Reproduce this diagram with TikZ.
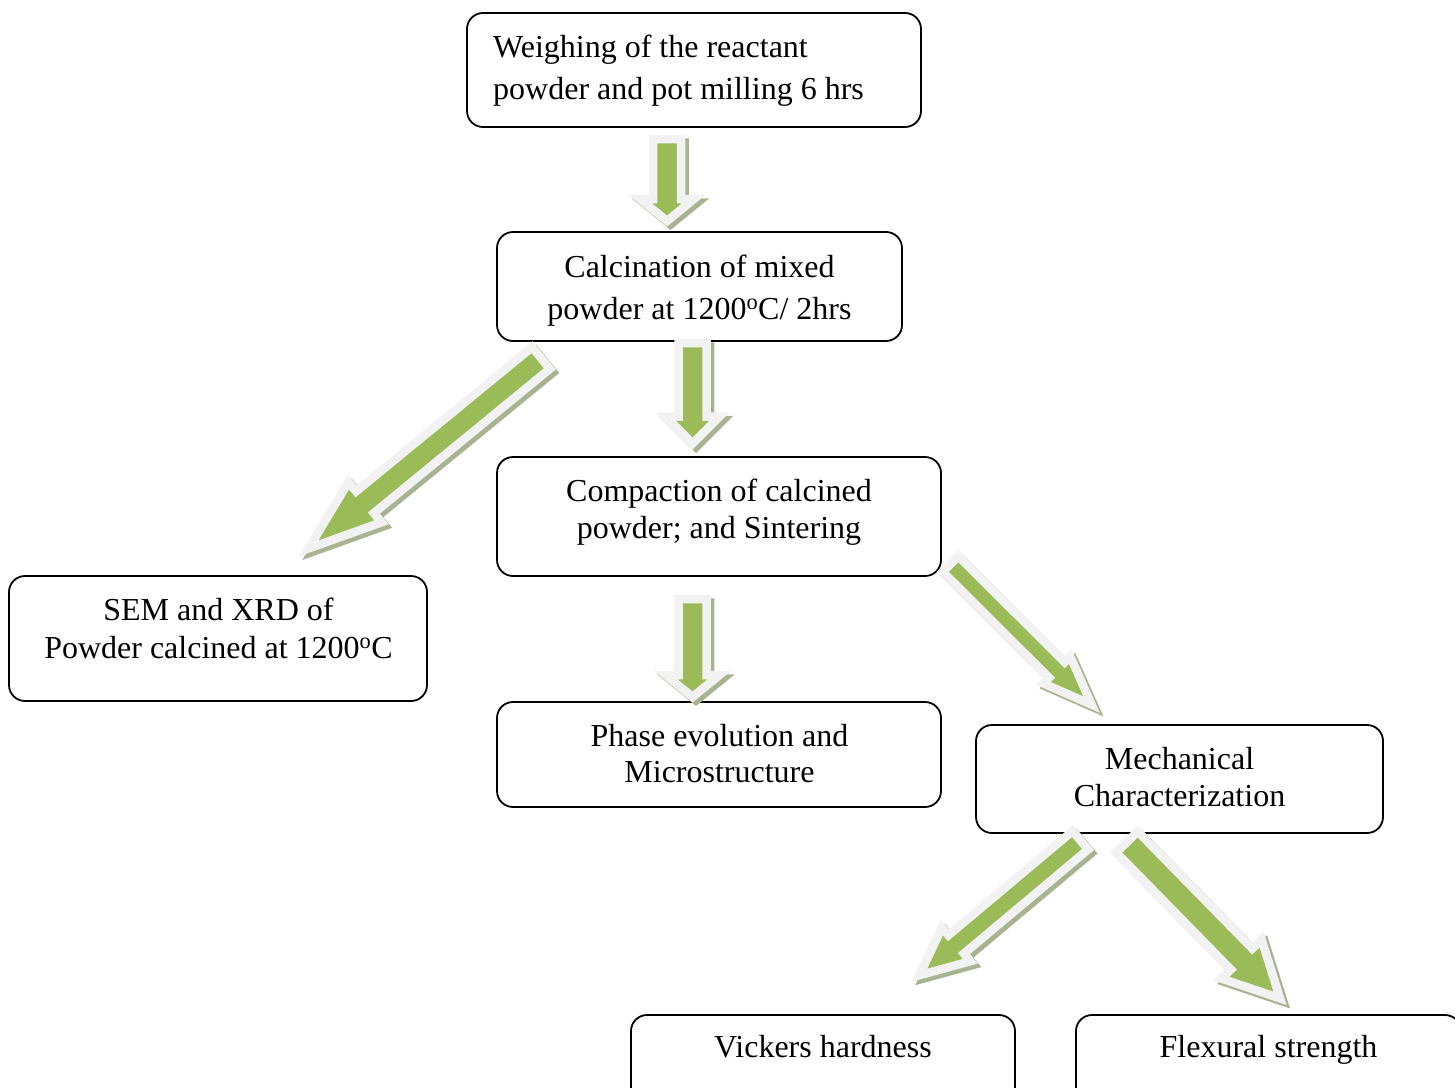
\documentclass[tikz,border=0pt]{standalone}
\usepackage{fontspec}
\setmainfont{Liberation Serif}
\definecolor{agreen}{RGB}{155,187,89}
\definecolor{aline}{RGB}{242,242,242}
\definecolor{ashade}{RGB}{168,180,145}
\newcommand\blockarrow[5]{%
  \pgfpointanchor{#1}{center}\pgfgetlastxy{\BAsx}{\BAsy}%
  \pgfpointanchor{#2}{center}\pgfgetlastxy{\BAtx}{\BAty}%
  \pgfmathsetmacro\BAang{atan2(\BAty-\BAsy,\BAtx-\BAsx)}%
  \pgfmathsetmacro\BAlen{veclen(\BAtx-\BAsx,\BAty-\BAsy)}%
  \begin{scope}[shift={(\BAsx+3.5pt,\BAsy-3.5pt)}, rotate=\BAang]
    \path[arrowshadow] (0,#3) -- ({\BAlen-#5},#3) -- ({\BAlen-#5},#4) -- (\BAlen,0)
      -- ({\BAlen-#5},-#4) -- ({\BAlen-#5},-#3) -- (0,-#3) -- cycle;
  \end{scope}
  \begin{scope}[shift={(\BAsx,\BAsy)}, rotate=\BAang]
    \path[arrowbody] (0,#3) -- ({\BAlen-#5},#3) -- ({\BAlen-#5},#4) -- (\BAlen,0)
      -- ({\BAlen-#5},-#4) -- ({\BAlen-#5},-#3) -- (0,-#3) -- cycle;
  \end{scope}%
}
\begin{document}
\begin{tikzpicture}[x=1pt,y=-1pt,
  box/.style={draw=black, line width=1.8pt, rounded corners=16pt, inner sep=0pt},
  txt/.style={font=\fontsize{32}{38}\selectfont, inner sep=0pt, anchor=base},
  arrowbody/.style={fill=agreen, draw=aline, line width=8.5pt, line join=miter},
  arrowshadow/.style={fill=ashade, draw=ashade, line width=8.5pt, line join=miter}]
\useasboundingbox (0,0) rectangle (1455,1087);
\clip (0,0) rectangle (1455,1087);

% boxes
\node[box, minimum width=454, minimum height=114] (b1) at (694,70) {};
\node[box, minimum width=405, minimum height=109] (b2) at (699.5,286.5) {};
\node[box, minimum width=444, minimum height=119] (b3) at (719,516.5) {};
\node[box, minimum width=418, minimum height=125] (b4) at (218,638.5) {};
\node[box, minimum width=444, minimum height=105] (b5) at (719,754.5) {};
\node[box, minimum width=407, minimum height=108] (b6) at (1179.5,779) {};
\node[box, minimum width=384, minimum height=95] (b7) at (823,1062.5) {};
\node[box, minimum width=385, minimum height=95] (b8) at (1268.5,1062.5) {};

% texts
\node[txt, anchor=base west] (t1a) at (493,57) {Weighing of the reactant};
\node[txt, anchor=base west] (t1b) at (493,99) {powder and pot milling 6 hrs};
\node[txt] (t2a) at (699.5,277) {Calcination of mixed};
\node[txt] (t2b) at (699.5,319) {powder at 1200\textsuperscript{o}C/ 2hrs};
\node[txt] (t3a) at (719,501) {Compaction of calcined};
\node[txt] (t3b) at (719,538) {powder; and Sintering};
\node[txt] (t4a) at (218.5,620) {SEM and XRD of};
\node[txt] (t4b) at (218.5,658) {Powder calcined at 1200\textsuperscript{o}C};
\node[txt] (t5a) at (719.5,746) {Phase evolution and};
\node[txt] (t5b) at (719.5,782) {Microstructure};
\node[txt] (t6a) at (1179.5,769) {Mechanical};
\node[txt] (t6b) at (1179.5,806) {Characterization};
\node[txt] (t7) at (823,1057) {Vickers hardness};
\node[txt] (t8) at (1268.5,1057) {Flexural strength};

% arrow end points
\coordinate (a1s) at (667,139);    \coordinate (a1t) at (667,221);
\coordinate (a2s) at (541,358);    \coordinate (a2t) at (308.5,548.5);
\coordinate (a3s) at (692.5,343);  \coordinate (a3t) at (692.5,443.5);
\coordinate (a4s) at (692.5,599);  \coordinate (a4t) at (692.5,697);
\coordinate (a5s) at (950.5,564);  \coordinate (a5t) at (1091.6,704.6);
\coordinate (a6s) at (1080.3,840.3); \coordinate (a6t) at (919.4,975.2);
\coordinate (a7s) at (1127,842);   \coordinate (a7t) at (1280,998.3);

\blockarrow{a1s}{a1t}{14}{27}{22}
\blockarrow{a2s}{a2t}{14}{26}{73}
\blockarrow{a3s}{a3t}{14}{27}{27}
\blockarrow{a4s}{a4t}{14}{27}{22}
\blockarrow{a5s}{a5t}{11}{19}{49}
\blockarrow{a6s}{a6t}{12}{22}{48}
\blockarrow{a7s}{a7t}{15}{28}{55}
\end{tikzpicture}
\end{document}
